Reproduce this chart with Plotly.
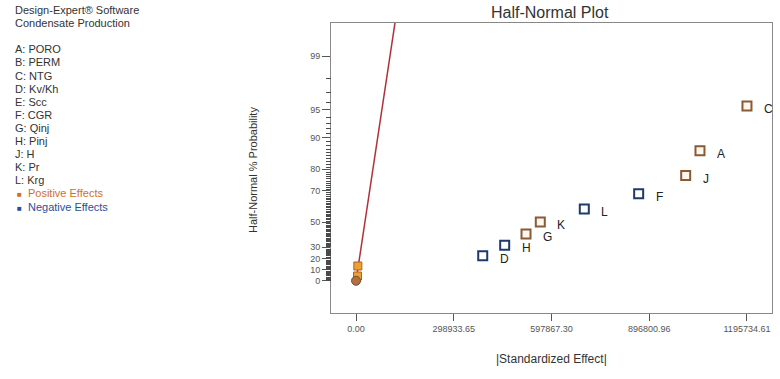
import plotly.graph_objects as go
from statistics import NormalDist

# ---------------- data ----------------
pos_labels = ["C", "A", "J", "K", "G"]
pos_effect = [1195734.61, 1052000, 1008300, 563600, 519900]
pos_prob = [95.5, 86.4, 77.3, 50.0, 40.9]

neg_labels = ["F", "L", "H", "D"]
neg_effect = [864500, 698200, 454700, 387500]
neg_prob = [68.2, 59.1, 31.8, 22.7]

small_effect = [5500, 4500]          # B, E (near zero, filled squares)
small_prob = [13.6, 4.5]

error_effect = [0]
error_prob = [0.2]

fit_effect = [0, 133000]
fit_z = [0, 3.3]

y_tick_labels = [0, 10, 20, 30, 50, 70, 80, 90, 95, 99]
x_tick_vals = [0.00, 298933.65, 597867.30, 896800.96, 1195734.61]
x_tick_text = ["0.00", "298933.65", "597867.30", "896800.96", "1195734.61"]

side_lines = ["Design-Expert® Software", "Condensate Production", "",
              "A: PORO", "B: PERM", "C: NTG", "D: Kv/Kh", "E: Scc", "F: CGR",
              "G: Qinj", "H: Pinj", "J: H", "K: Pr", "L: Krg"]

# ---------------- half-normal probability scale ----------------
nd = NormalDist()
def hz(p):
    return nd.inv_cdf(0.5 + p / 200.0)

FONT = "Liberation Sans, Arial, sans-serif"
POS_LINE = "#8a5a36"
NEG_LINE = "#1f3a6a"
Y_RANGE = [-0.367, 2.955]

fig = go.Figure()

fig.add_trace(go.Scatter(x=fit_effect, y=fit_z, mode="lines",
                         line=dict(color="#b0303a", width=1.5),
                         hoverinfo="skip", showlegend=False))

fig.add_trace(go.Scatter(x=pos_effect, y=[hz(p) for p in pos_prob], mode="markers",
                         marker=dict(symbol="square", size=9, color="#fff6ee",
                                     line=dict(color=POS_LINE, width=2)),
                         showlegend=False))
fig.add_trace(go.Scatter(x=neg_effect, y=[hz(p) for p in neg_prob], mode="markers",
                         marker=dict(symbol="square", size=9, color="#ffffff",
                                     line=dict(color=NEG_LINE, width=2)),
                         showlegend=False))
fig.add_trace(go.Scatter(x=small_effect, y=[hz(p) for p in small_prob], mode="markers",
                         marker=dict(symbol="square", size=8, color="#f0a030",
                                     line=dict(color="#b06020", width=1)),
                         showlegend=False))
fig.add_trace(go.Scatter(x=error_effect, y=[hz(p) for p in error_prob], mode="markers",
                         marker=dict(symbol="circle", size=9, color="#b07040",
                                     line=dict(color="#7a4a30", width=1)),
                         showlegend=False))

# point labels
for lab, xv, pv in list(zip(pos_labels, pos_effect, pos_prob)) + list(zip(neg_labels, neg_effect, neg_prob)):
    fig.add_annotation(x=xv, y=hz(pv), text=lab, showarrow=False,
                       xanchor="left", yanchor="middle", xshift=15, yshift=-3,
                       font=dict(family=FONT, size=12, color="#222"))

# screen-pixel geometry (body margin is removed by the post script)
W, H = 780, 379
L, R, T, B = 331, 8, 23, 66
pw, ph = W - L - R, H - T - B
def px(xs):
    return (xs - L) / pw
def py(ys):
    return (H - B - ys) / ph

# left side text
y0 = 10
for i, s in enumerate(side_lines):
    if s:
        fig.add_annotation(xref="paper", yref="paper", x=px(13), y=py(y0 + 13.1 * i),
                           text=s, showarrow=False, xanchor="left", yanchor="middle",
                           font=dict(family=FONT, size=11, color="#333"))
n = len(side_lines)
fig.add_annotation(xref="paper", yref="paper", x=px(15), y=py(y0 + 13.1 * n),
                   text="<span style='font-size:8px'>■</span>  Positive Effects", showarrow=False,
                   xanchor="left", yanchor="middle", font=dict(family=FONT, size=11, color="#d2702a"))
fig.add_annotation(xref="paper", yref="paper", x=px(15), y=py(y0 + 13.1 * (n + 1)),
                   text="<span style='font-size:8px'>■</span>  Negative Effects", showarrow=False,
                   xanchor="left", yanchor="middle", font=dict(family=FONT, size=11, color="#2a4f9a"))

# axis titles
fig.add_annotation(xref="paper", yref="paper", x=px(245), y=py(170),
                   text="Half-Normal % Probability", textangle=-90, showarrow=False,
                   font=dict(family=FONT, size=11, color="#333"))
fig.add_annotation(xref="paper", yref="paper", x=px(551), y=py(368),
                   text="|Standardized Effect|", showarrow=False,
                   font=dict(family=FONT, size=12, color="#333"))
fig.add_annotation(xref="paper", yref="paper", x=px(550), y=py(13),
                   text="Half-Normal Plot", showarrow=False, yanchor="middle",
                   font=dict(family=FONT, size=16, color="#333"))

# minor probability ticks (every 1 %) drawn as short axis-side strokes,
# snapped to pixel centres so they render crisply
for p in range(1, 100):
    if p in y_tick_labels:
        continue
    frac = (hz(p) - Y_RANGE[0]) / (Y_RANGE[1] - Y_RANGE[0])
    pix = round(T + ph * (1 - frac)) + 0.5
    yp = 1 - (pix - T) / ph
    fig.add_shape(type="line", xref="paper", yref="paper",
                  x0=-5 / pw, x1=0, y0=yp, y1=yp,
                  line=dict(color="#4a4a4a", width=1), layer="above")

fig.update_layout(
    width=W, height=H,
    margin=dict(l=L, r=R, t=T, b=B, autoexpand=False),
    paper_bgcolor="white", plot_bgcolor="white",
    xaxis=dict(range=[-76570, 1272300], tickmode="array", tickvals=x_tick_vals, ticktext=x_tick_text,
               ticks="outside", ticklen=7, tickcolor="#555", showgrid=False, zeroline=False,
               showline=True, linecolor="#888", linewidth=1, mirror=True,
               tickfont=dict(family=FONT, size=9, color="#555")),
    yaxis=dict(range=Y_RANGE, tickmode="array", tickvals=[hz(p) for p in y_tick_labels],
               ticktext=[str(p) for p in y_tick_labels],
               ticks="outside", ticklen=8, tickcolor="#555", showgrid=False, zeroline=False,
               showline=True, linecolor="#888", linewidth=1, mirror=True,
               tickfont=dict(family=FONT, size=9, color="#555")),
)

fig.write_html("out.html",
               config={"displayModeBar": False},
               post_script="document.body.style.margin='0px';document.body.style.padding='0px';")
